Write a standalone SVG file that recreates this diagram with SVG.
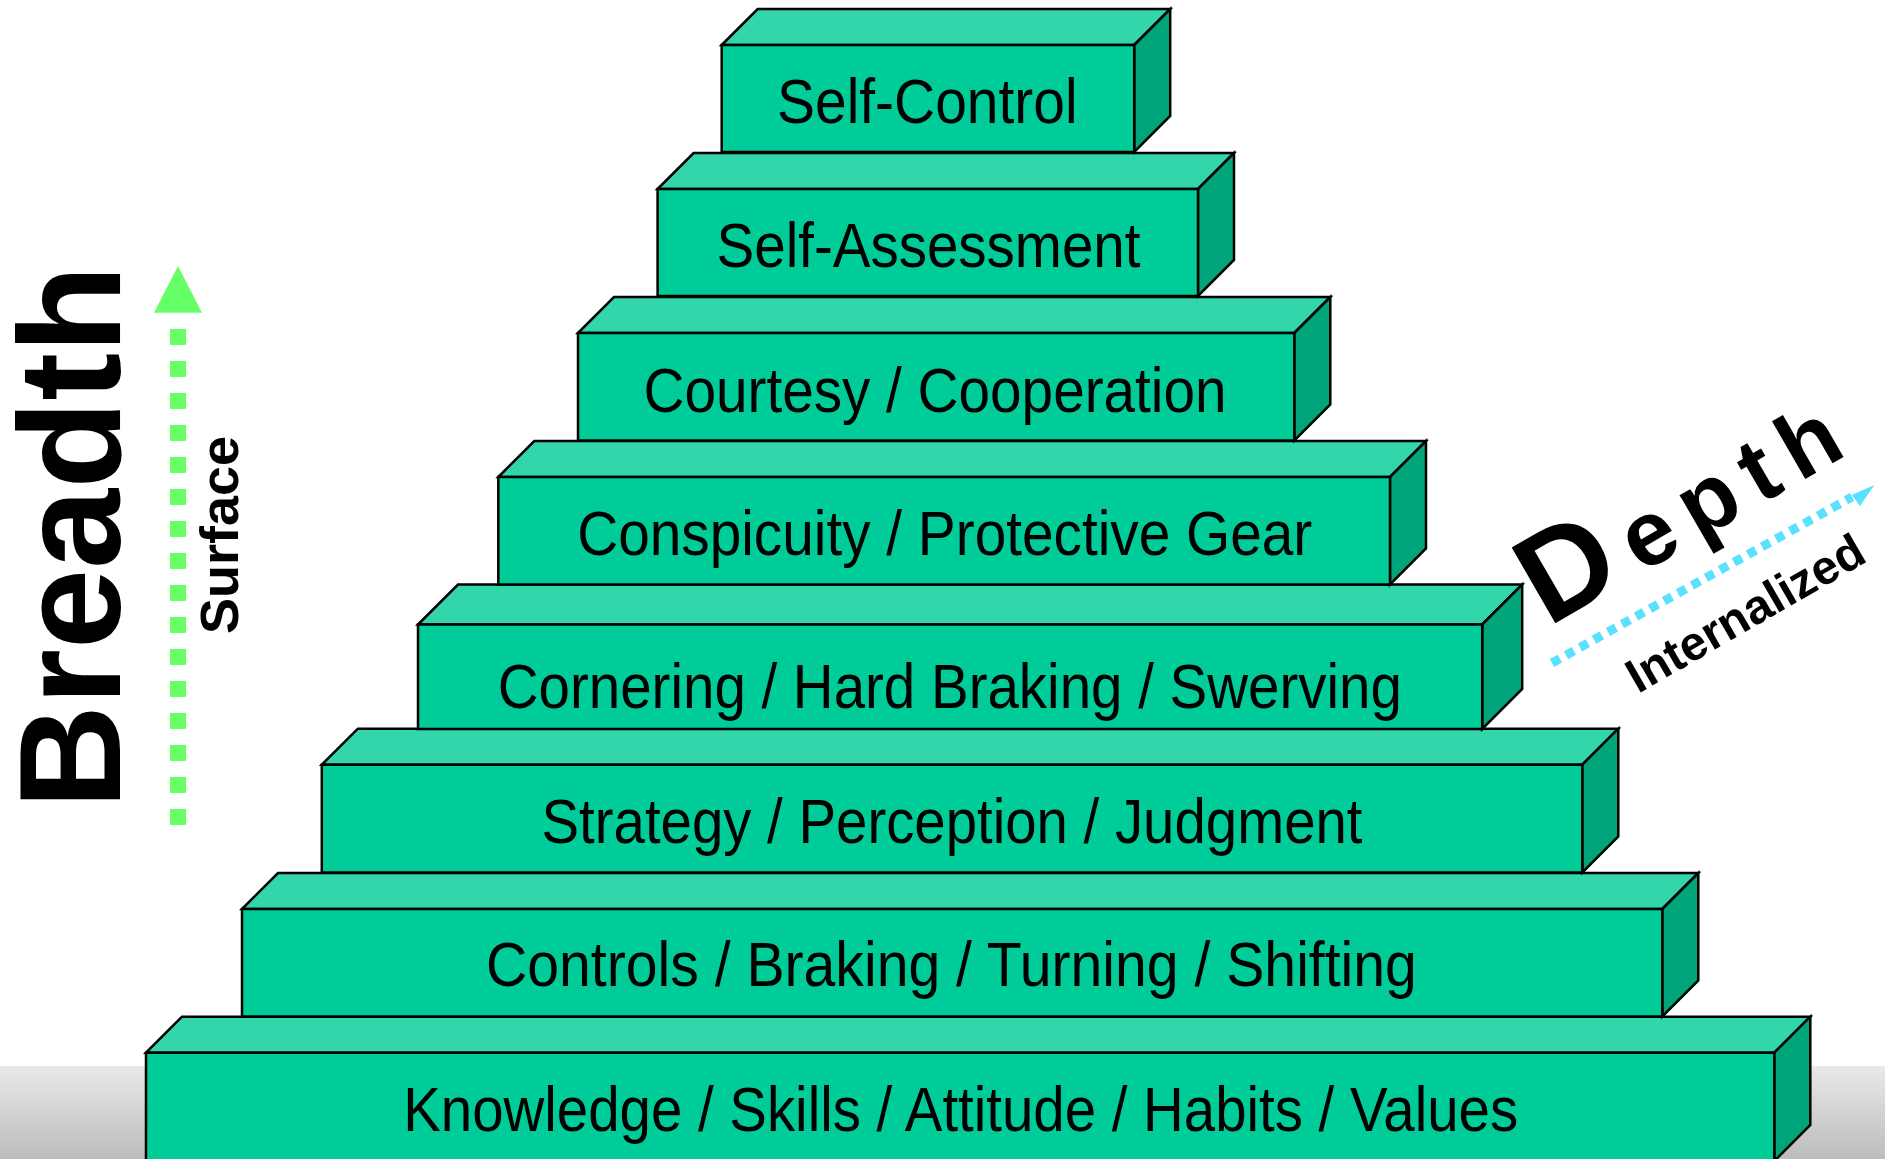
<svg xmlns="http://www.w3.org/2000/svg" width="1885" height="1159" viewBox="0 0 1885 1159">
<defs>
<linearGradient id="floor" x1="0" y1="0" x2="0" y2="1">
<stop offset="0" stop-color="#e9e9e7"/>
<stop offset="1" stop-color="#bcbcbc"/>
</linearGradient>
<style>
.front{fill:#00CC99;stroke:#000;stroke-width:2.5;stroke-linejoin:miter}
.top{fill:#33D6AB;stroke:#000;stroke-width:2.5;stroke-linejoin:miter}
.side{fill:#00A67A;stroke:#000;stroke-width:2.5;stroke-linejoin:miter}
.lbl{font-family:"Liberation Sans Narrow","Liberation Sans",Arial,sans-serif;font-size:63px;fill:#000;text-anchor:middle}
.bold{font-family:"Liberation Sans",Arial,sans-serif;font-weight:bold;fill:#000}
</style>
</defs>
<rect x="0" y="0" width="1885" height="1159" fill="#fff"/>
<rect x="0" y="1066" width="1885" height="93" fill="url(#floor)"/>

<g id="step8">
<polygon class="top" points="146,1052.7 182,1016.7 1810.3,1016.7 1774.3,1052.7"/>
<polygon class="side" points="1774.3,1052.7 1810.3,1016.7 1810.3,1125 1774.3,1161"/>
<rect class="front" x="146" y="1052.7" width="1628.3" height="110"/>
<text class="lbl" x="960.7" y="1130.7" textLength="1115" lengthAdjust="spacingAndGlyphs">Knowledge / Skills / Attitude / Habits / Values</text>
</g>
<g id="step7">
<polygon class="top" points="242,909 278,873 1698.3,873 1662.3,909"/>
<polygon class="side" points="1662.3,909 1698.3,873 1698.3,980.5 1662.3,1016.5"/>
<rect class="front" x="242" y="909" width="1420.3" height="107.5"/>
<text class="lbl" x="951.4" y="985.7" textLength="931" lengthAdjust="spacingAndGlyphs">Controls / Braking / Turning / Shifting</text>
</g>
<g id="step6">
<polygon class="top" points="321.8,764.7 357.8,728.7 1618.3,728.7 1582.3,764.7"/>
<polygon class="side" points="1582.3,764.7 1618.3,728.7 1618.3,836.5 1582.3,872.5"/>
<rect class="front" x="321.8" y="764.7" width="1260.5" height="107.8"/>
<text class="lbl" x="952" y="842.7" textLength="821" lengthAdjust="spacingAndGlyphs">Strategy / Perception / Judgment</text>
</g>
<g id="step5">
<polygon class="top" points="418,624.5 458,584.5 1522.2,584.5 1482.2,624.5"/>
<polygon class="side" points="1482.2,624.5 1522.2,584.5 1522.2,689 1482.2,729"/>
<rect class="front" x="418" y="624.5" width="1064.2" height="104.5"/>
<text class="lbl" x="949.8" y="708.3" textLength="904" lengthAdjust="spacingAndGlyphs">Cornering / Hard Braking / Swerving</text>
</g>
<g id="step4">
<polygon class="top" points="498.3,477 534.3,441 1426,441 1390,477"/>
<polygon class="side" points="1390,477 1426,441 1426,548.5 1390,584.5"/>
<rect class="front" x="498.3" y="477" width="891.7" height="107.5"/>
<text class="lbl" x="944.7" y="555" textLength="735" lengthAdjust="spacingAndGlyphs">Conspicuity / Protective Gear</text>
</g>
<g id="step3">
<polygon class="top" points="578,333 614,297 1330.3,297 1294.3,333"/>
<polygon class="side" points="1294.3,333 1330.3,297 1330.3,404.5 1294.3,440.5"/>
<rect class="front" x="578" y="333" width="716.3" height="107.5"/>
<text class="lbl" x="935" y="411.7" textLength="583" lengthAdjust="spacingAndGlyphs">Courtesy / Cooperation</text>
</g>
<g id="step2">
<polygon class="top" points="657.6,189 693.6,153 1234,153 1198,189"/>
<polygon class="side" points="1198,189 1234,153 1234,260 1198,296"/>
<rect class="front" x="657.6" y="189" width="540.4" height="107"/>
<text class="lbl" x="928.5" y="266.7" textLength="424" lengthAdjust="spacingAndGlyphs">Self-Assessment</text>
</g>
<g id="step1">
<polygon class="top" points="721.7,45 757.7,9 1170.2,9 1134.2,45"/>
<polygon class="side" points="1134.2,45 1170.2,9 1170.2,116 1134.2,152"/>
<rect class="front" x="721.7" y="45" width="412.5" height="107"/>
<text class="lbl" x="927.3" y="123.3" textLength="300.6" lengthAdjust="spacingAndGlyphs">Self-Control</text>
</g>

<g id="breadth">
<text class="bold" font-size="144" transform="translate(119.5,809) rotate(-90)">Breadth</text>
<text class="bold" font-size="54" transform="translate(237.5,634) rotate(-90)">Surface</text>
</g>
<g id="depth">
<text class="bold" transform="translate(1548,627.5) rotate(-30)"><tspan font-size="127">D</tspan><tspan font-size="92" dx="16" letter-spacing="15">epth</tspan></text>
<text class="bold" font-size="48" transform="translate(1638,694) rotate(-30)">Internalized</text>
</g>
<g id="connectors">
<line x1="1552" y1="663" x2="1852" y2="497" stroke="#5BE0FF" stroke-width="9" stroke-dasharray="9 7"/>
<polygon points="1874.3,485 1851.7,495 1860,506" fill="#5BE0FF"/>
<line x1="178" y1="329" x2="178" y2="825" stroke="#66FF66" stroke-width="16" stroke-dasharray="16 16"/>
<polygon points="178,266 154,312.8 202,312.8" fill="#66FF66"/>
</g>
</svg>
